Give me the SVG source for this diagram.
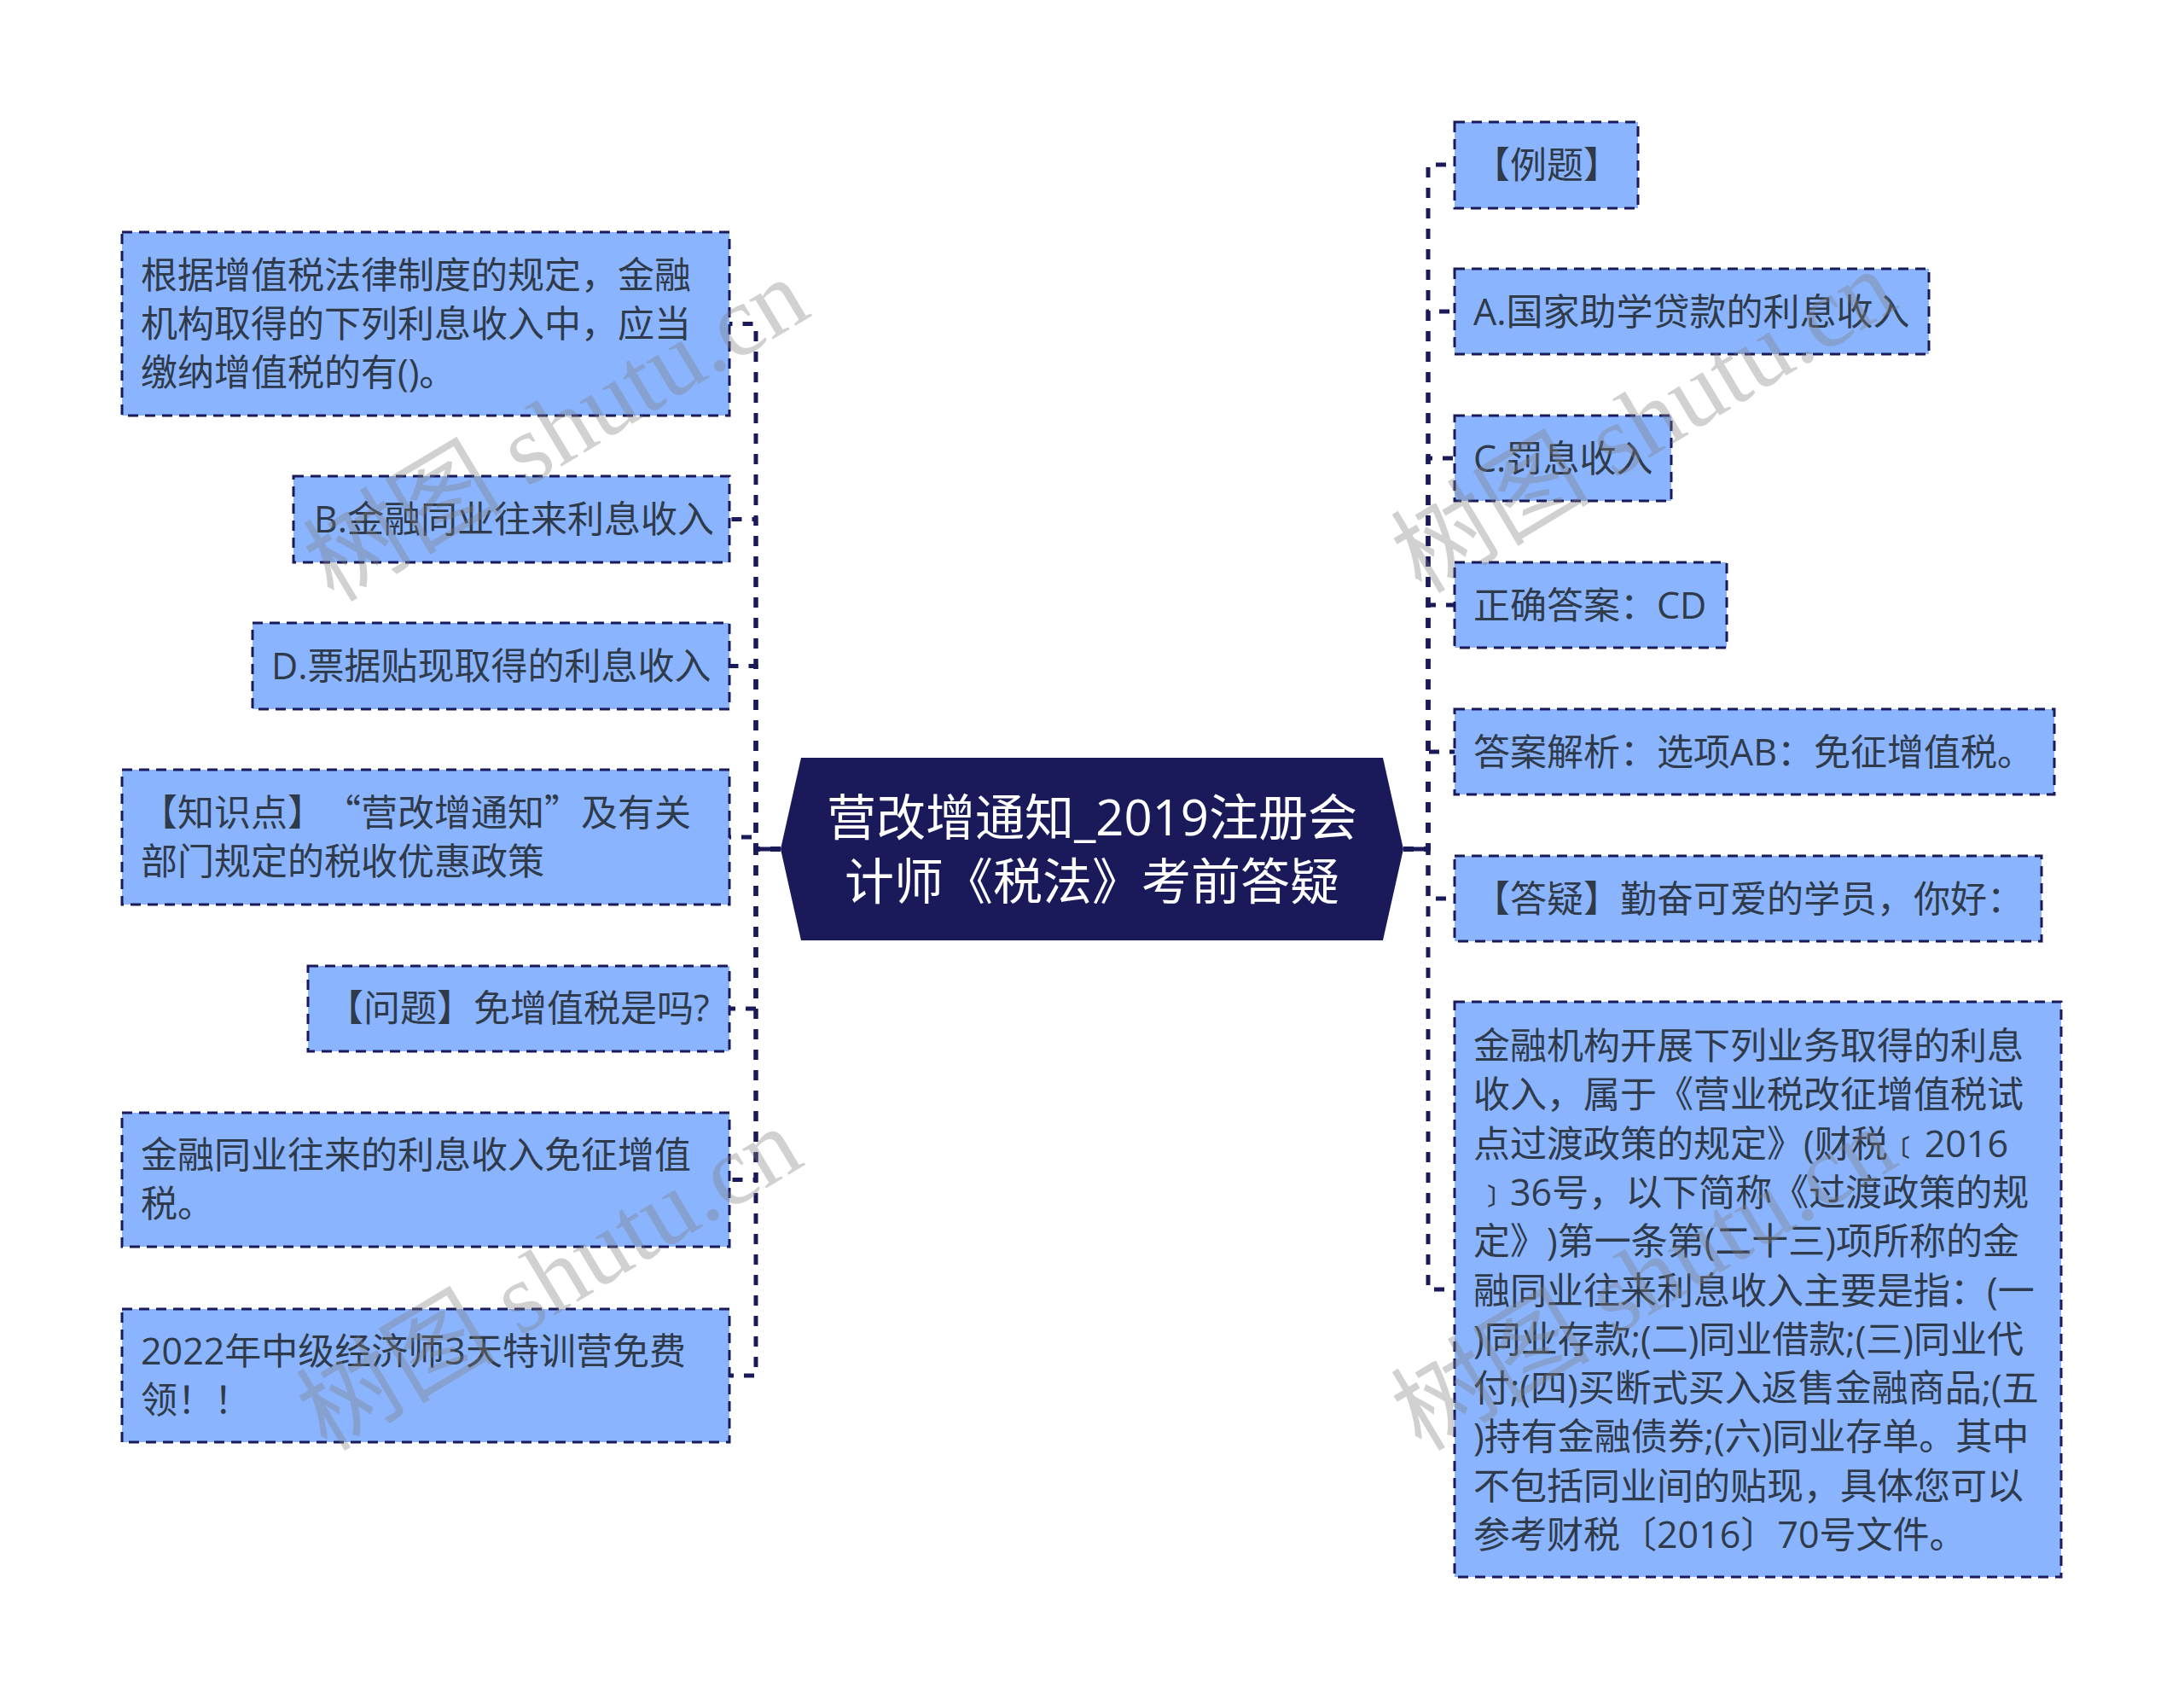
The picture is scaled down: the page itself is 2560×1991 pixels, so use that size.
<svg xmlns="http://www.w3.org/2000/svg" width="2560" height="1991" viewBox="0 0 2560 1991">
<style>
.box{fill:#8ab4fd;stroke:#1a1a5a;stroke-width:3;stroke-dasharray:12 8}
.t{font-family:"Open Sans","Noto Sans CJK SC",sans-serif;font-size:43px;fill:#2f3a4a;text-spacing-trim:space-all}
.q{font-family:"Noto Sans CJK SC",sans-serif}
.c{fill:none;stroke:#1a1a5a;stroke-width:5;stroke-dasharray:12 12}
.s{fill:none;stroke:#1a1a5a;stroke-width:5}
.root{fill:#1a1a5a}
.rt{font-family:"Open Sans","Noto Sans CJK SC",sans-serif;font-size:58px;fill:#fff;text-anchor:middle;text-spacing-trim:space-all}
.wm{font-family:"Liberation Serif","Noto Sans CJK SC",serif;font-size:117px;fill:#808080;fill-opacity:.36}
</style>
<rect width="2560" height="1991" fill="#fff"/>
<g id="connectors">
<path class="s" d="M915,995H886M1645,995H1674"/>
<path class="c" d="M915,995H886V379.5H855"/>
<path class="c" d="M915,995H886V608.5H855"/>
<path class="c" d="M915,995H886V780.5H855"/>
<path class="c" d="M915,995H886V981H855"/>
<path class="c" d="M915,995H886V1182H855"/>
<path class="c" d="M915,995H886V1382.500H855"/>
<path class="c" d="M915,995H886V1612H855"/>
<path class="c" d="M1645,995H1674V193H1705"/>
<path class="c" d="M1645,995H1674V365H1705"/>
<path class="c" d="M1645,995H1674V537H1705"/>
<path class="c" d="M1645,995H1674V709H1705"/>
<path class="c" d="M1645,995H1674V881H1705"/>
<path class="c" d="M1645,995H1674V1053H1705"/>
<path class="c" d="M1645,995H1674V1511H1705"/>
</g>
<g id="root"><polygon class="root" points="939,888 1621,888 1645,995 1621,1102 939,1102 915,995"/>
<text class="rt" x="1280" y="979">营改增通知_2019注册会</text>
<text class="rt" x="1280" y="1054">计师《税法》考前答疑</text></g>
<g id="l1"><rect class="box" x="143" y="272" width="712" height="215"/>
<text class="t" x="165" y="338">根据增值税法律制度的规定，金融</text>
<text class="t" x="165" y="395">机构取得的下列利息收入中，应当</text>
<text class="t" x="165" y="452">缴纳增值税的有()。</text></g>
<g id="l2"><rect class="box" x="344" y="558" width="511" height="101"/><text class="t" x="368" y="624">B.金融同业往来利息收入</text></g>
<g id="l3"><rect class="box" x="296" y="730" width="559" height="101"/><text class="t" x="318" y="796">D.票据贴现取得的利息收入</text></g>
<g id="l4"><rect class="box" x="143" y="902" width="712" height="158"/>
<text class="t" x="165" y="968">【知识点】<tspan class="q">“</tspan>营改增通知<tspan class="q">”</tspan>及有关</text>
<text class="t" x="165" y="1025">部门规定的税收优惠政策</text></g>
<g id="l5"><rect class="box" x="361" y="1132" width="494" height="100"/><text class="t" x="383" y="1197">【问题】免增值税是吗?</text></g>
<g id="l6"><rect class="box" x="143" y="1304" width="712" height="157"/>
<text class="t" x="165" y="1369">金融同业往来的利息收入免征增值</text>
<text class="t" x="165" y="1426">税。</text></g>
<g id="l7"><rect class="box" x="143" y="1534" width="712" height="156"/>
<text class="t" x="165" y="1599">2022年中级经济师3天特训营免费</text>
<text class="t" x="165" y="1656">领！！</text></g>
<g id="r1"><rect class="box" x="1705" y="143" width="215" height="101"/><text class="t" x="1727" y="209">【例题】</text></g>
<g id="r2"><rect class="box" x="1705" y="315" width="556" height="100"/><text class="t" x="1727" y="381">A.国家助学贷款的利息收入</text></g>
<g id="r3"><rect class="box" x="1705" y="487" width="254" height="100"/><text class="t" x="1727" y="553">C.罚息收入</text></g>
<g id="r4"><rect class="box" x="1705" y="659" width="319" height="100"/><text class="t" x="1727" y="725">正确答案：CD</text></g>
<g id="r5"><rect class="box" x="1705" y="831" width="703" height="100"/><text class="t" x="1727" y="897">答案解析：选项AB：免征增值税。</text></g>
<g id="r6"><rect class="box" x="1705" y="1003" width="688" height="100"/><text class="t" x="1727" y="1069">【答疑】勤奋可爱的学员，你好：</text></g>
<g id="r7"><rect class="box" x="1705" y="1174" width="711" height="674"/>
<text class="t" x="1727" y="1241">金融机构开展下列业务取得的利息</text>
<text class="t" x="1727" y="1298">收入，属于《营业税改征增值税试</text>
<text class="t" x="1727" y="1356">点过渡政策的规定》(财税﹝2016</text>
<text class="t" x="1727" y="1413">﹞36号，以下简称《过渡政策的规</text>
<text class="t" x="1727" y="1470">定》)第一条第(二十三)项所称的金</text>
<text class="t" x="1727" y="1528">融同业往来利息收入主要是指：(一</text>
<text class="t" x="1727" y="1585">)同业存款;(二)同业借款;(三)同业代</text>
<text class="t" x="1727" y="1642">付;(四)买断式买入返售金融商品;(五</text>
<text class="t" x="1727" y="1699">)持有金融债券;(六)同业存单。其中</text>
<text class="t" x="1727" y="1757">不包括同业间的贴现，具体您可以</text>
<text class="t" x="1727" y="1814">参考财税〔2016〕70号文件。</text></g>
<g id="watermarks">
<text class="wm" transform="translate(391 707) rotate(-31)">树图 shutu.cn</text>
<text class="wm" transform="translate(1666 697) rotate(-31)">树图 shutu.cn</text>
<text class="wm" transform="translate(383 1702) rotate(-31)">树图 shutu.cn</text>
<text class="wm" transform="translate(1666 1702) rotate(-31)">树图 shutu.cn</text>
</g>
</svg>
